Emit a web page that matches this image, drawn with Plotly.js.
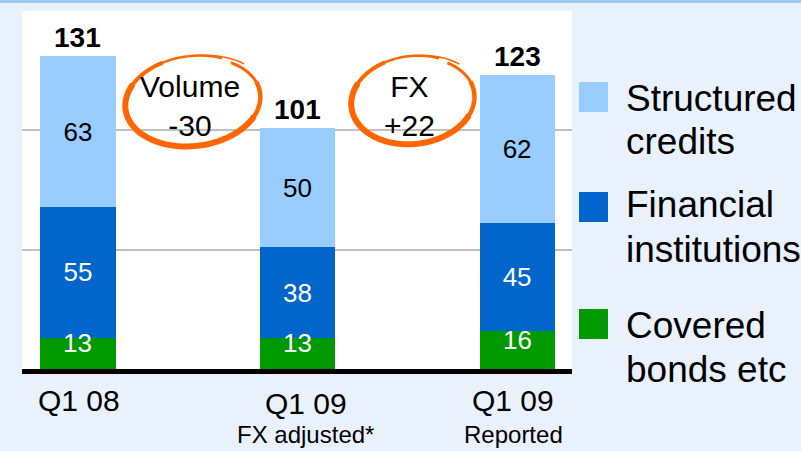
<!DOCTYPE html>
<html>
<head>
<meta charset="utf-8">
<script src="https://cdn.plot.ly/plotly-3.0.1.min.js"></script>
<style>html,body{margin:0;padding:0;background:#e9f2fc;}#chart{width:801px;height:451px;}</style>
</head>
<body>
<div id="chart"></div>
<script>
// ---- data ----
const categories = ['Q1 08', 'Q1 09 FX adjusted*', 'Q1 09 Reported'];
const tickMain = ['Q1 08', 'Q1 09', 'Q1 09'];
const tickSub = ['', 'FX adjusted*', 'Reported'];
const covered = [13, 13, 16];
const financial = [55, 38, 45];
const structured = [63, 50, 62];
const totals = [131, 101, 123];
const seriesNames = ['Covered bonds etc', 'Financial institutions', 'Structured credits'];
const legendLines = [['Structured', 'credits'], ['Financial', 'institutions'], ['Covered', 'bonds etc']];
const bridgeLabels = ['Volume<br>-30', 'FX<br>+22'];

// ---- styling / layout ----
const C_STRUCT = '#99ccff', C_FIN = '#0066cc', C_COV = '#009900', C_RING = '#ff6600';
const FONT = 'Arial, "Liberation Sans", sans-serif';
const W = 801, H = 451, ML = 22, MR = 229, MT = 11, MB = 82;
const PW = W - ML - MR, PH = H - MT - MB;
const px = x => (x - ML) / PW;
const py = y => (H - MB - y) / PH;
const xIdx = categories.map((c, i) => i);

function ellipsePath(cx, cy, rx, ry, rot, t0, t1, g0, g1) {
  const r = rot * Math.PI / 180;
  let d = '';
  const n = 60;
  for (let k = 0; k <= n; k++) {
    const t = (t0 + (t1 - t0) * k / n) * Math.PI / 180;
    const f = (g0 || 1) + ((g1 || 1) - (g0 || 1)) * k / n;
    const ex = rx * f * Math.cos(t), ey = ry * f * Math.sin(t);
    const X = cx + ex * Math.cos(r) - ey * Math.sin(r);
    const Y = cy + ex * Math.sin(r) + ey * Math.cos(r);
    d += (k === 0 ? 'M' : 'L') + px(X).toFixed(5) + ',' + py(Y).toFixed(5);
  }
  return d;
}
function ring(cx, cy, rx, ry) {
  const rot = -7;
  const segs = [
    [-40, -80, 1.06, 1.0, 1.5],
    [-60, -115, 1.0, 1.0, 2.5],
    [-112, -150, 1.0, 1.0, 4],
    [-148, -330, 1.0, 1.0, 6],
    [-328, -375, 1.0, 0.99, 4.5],
    [-373, -410, 0.99, 0.97, 3]
  ];
  return segs.map(s => ({type: 'path', xref: 'paper', yref: 'paper',
    path: ellipsePath(cx, cy, rx, ry, rot, s[0], s[1], s[2], s[3]), line: {color: C_RING, width: s[4]}}));
}

const traces = [
  {type: 'bar', x: xIdx, y: covered, name: seriesNames[0], marker: {color: C_COV}, textposition: 'none', hoverinfo: 'none'},
  {type: 'bar', x: xIdx, y: financial, name: seriesNames[1], marker: {color: C_FIN}, text: financial.map(String),
   textposition: 'inside', insidetextanchor: 'middle', constraintext: 'none', textangle: 0,
   insidetextfont: {family: FONT, size: 26, color: '#ffffff'}, hoverinfo: 'none'},
  {type: 'bar', x: xIdx, y: structured, name: seriesNames[2], marker: {color: C_STRUCT}, text: structured.map(String),
   textposition: 'inside', insidetextanchor: 'middle', constraintext: 'none', textangle: 0,
   insidetextfont: {family: FONT, size: 26, color: '#000000'}, hoverinfo: 'none'}
];

const annotations = [];
totals.forEach((t, i) => annotations.push({x: i, y: t, xref: 'x', yref: 'y', text: '<b>' + t + '</b>', showarrow: false,
  yanchor: 'bottom', yshift: 1, font: {family: FONT, size: 28, color: '#000'}}));
covered.forEach((v, i) => annotations.push({x: i, y: v / 2, xref: 'x', yref: 'y', text: String(v), showarrow: false,
  yanchor: 'middle', yshift: 10, font: {family: FONT, size: 26, color: '#fff'}}));
const tickShift = [1, 8, -4];
tickMain.forEach((t, i) => annotations.push({x: i, y: 0, xref: 'x', yref: 'paper', text: t, showarrow: false,
  yanchor: 'top', yshift: i === 1 ? -16 : -13, xshift: tickShift[i], font: {family: FONT, size: 30, color: '#000'}}));
tickSub.forEach((t, i) => { if (t) annotations.push({x: i, y: 0, xref: 'x', yref: 'paper', text: t, showarrow: false,
  yanchor: 'top', yshift: -50, xshift: tickShift[i], font: {family: FONT, size: 24, color: '#000'}}); });
const bridgeX = [190, 409];
bridgeLabels.forEach((t, i) => annotations.push({x: px(bridgeX[i]), y: py(106), xref: 'paper', yref: 'paper', text: t,
  showarrow: false, xanchor: 'center', yanchor: 'middle', font: {family: FONT, size: 30, color: '#000'}}));
const legendY = [[98.5, 141], [204.5, 249.5], [325, 369]];
legendLines.forEach((lines, i) => lines.forEach((ln, j) => annotations.push({x: px(624), y: py(legendY[i][j]),
  xref: 'paper', yref: 'paper', text: ln, showarrow: false, xanchor: 'left', yanchor: 'middle',
  font: {family: FONT, size: 37, color: '#000'}})));

const shapes = [
  {type: 'rect', xref: 'paper', yref: 'paper', x0: px(0), x1: px(W), y0: py(3), y1: py(-2), fillcolor: '#9ecbf4', line: {width: 0}, layer: 'below'},
  {type: 'rect', xref: 'paper', yref: 'paper', x0: px(579), x1: px(608), y0: py(112), y1: py(82), fillcolor: C_STRUCT, line: {width: 0}},
  {type: 'rect', xref: 'paper', yref: 'paper', x0: px(579), x1: px(608), y0: py(222), y1: py(192), fillcolor: C_FIN, line: {width: 0}},
  {type: 'rect', xref: 'paper', yref: 'paper', x0: px(579), x1: px(608), y0: py(339), y1: py(309), fillcolor: C_COV, line: {width: 0}}
].concat(ring(193, 101, 68, 45)).concat(ring(413, 100, 62, 44));

const layout = {
  width: W, height: H,
  margin: {l: ML, r: MR, t: MT, b: MB, pad: 0},
  paper_bgcolor: '#e9f2fc', plot_bgcolor: '#ffffff',
  barmode: 'stack', bargap: 0, showlegend: false,
  xaxis: {range: [-0.255, 2.25], tickvals: xIdx, showticklabels: false, ticks: '', showgrid: false, zeroline: false,
    showline: true, linecolor: '#000000', linewidth: 5, fixedrange: true},
  yaxis: {range: [0, 150], dtick: 50, showticklabels: false, ticks: '', showgrid: true, gridcolor: '#c0c0c0', gridwidth: 2,
    zeroline: false, showline: false, fixedrange: true},
  annotations: annotations, shapes: shapes,
  font: {family: FONT}
};
traces.forEach(t => t.width = 0.342);
Plotly.newPlot('chart', traces, layout, {staticPlot: true, displayModeBar: false});
</script>
</body>
</html>
